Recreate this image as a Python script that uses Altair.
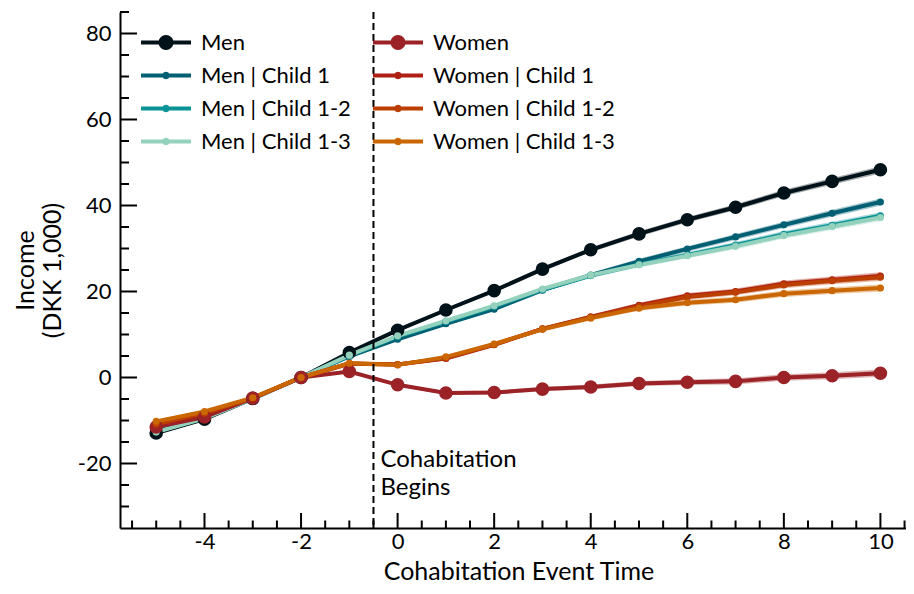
import math
import altair as alt
import pandas as pd

# ---------------- data ----------------
event_time = [-5, -4, -3, -2, -1, 0, 1, 2, 3, 4, 5, 6, 7, 8, 9, 10]

men       = [-12.9, -9.7, -4.9, 0, 5.8, 11.0, 15.7, 20.2, 25.2, 29.7, 33.4, 36.7, 39.6, 42.9, 45.6, 48.3]
men_c1    = [-12.5, -9.3, -4.8, 0, 4.9, 8.9, 12.5, 15.9, 20.3, 23.8, 27.0, 29.9, 32.7, 35.5, 38.2, 40.8]
men_c12   = [-12.6, -9.4, -4.9, 0, 5.1, 9.5, 13.0, 16.5, 20.4, 23.7, 26.3, 28.5, 30.8, 33.3, 35.4, 37.6]
men_c13   = [-12.7, -9.5, -4.9, 0, 5.2, 9.7, 13.2, 16.7, 20.6, 23.8, 26.2, 28.3, 30.5, 33.0, 35.1, 37.2]
women     = [-11.5, -9.2, -4.8, 0, 1.4, -1.7, -3.6, -3.5, -2.7, -2.2, -1.4, -1.1, -0.9, 0.0, 0.4, 1.0]
women_c1  = [-10.9, -8.4, -4.8, 0, 3.2, 3.0, 4.4, 7.6, 11.3, 14.1, 16.8, 19.0, 20.0, 21.8, 22.7, 23.6]
women_c12 = [-10.8, -8.3, -4.8, 0, 3.3, 3.0, 4.5, 7.7, 11.3, 14.0, 16.5, 18.7, 19.8, 21.5, 22.5, 23.3]
women_c13 = [-10.2, -7.9, -4.7, 0, 3.3, 2.9, 4.8, 7.8, 11.2, 13.8, 16.1, 17.4, 18.1, 19.5, 20.2, 20.8]

# half width of the confidence band around each estimate
ci_half = [0.4, 0.35, 0.25, 0.0, 0.25, 0.35, 0.4, 0.45, 0.5, 0.55, 0.6, 0.65, 0.7, 0.75, 0.8, 0.85]

series_names = ["Men", "Men | Child 1", "Men | Child 1-2", "Men | Child 1-3",
                "Women", "Women | Child 1", "Women | Child 1-2", "Women | Child 1-3"]
series_values = [men, men_c1, men_c12, men_c13, women, women_c1, women_c12, women_c13]
series_colors = ["#001219", "#005f73", "#0a9396", "#94d2bd",
                 "#9b2226", "#ae2012", "#bb3e03", "#ca6702"]
big_series = ["Men", "Women"]

x_major = [-4, -2, 0, 2, 4, 6, 8, 10]
x_minor = [-5.5, -5, -4.5, -3.5, -3, -2.5, -1.5, -1, -0.5, 0.5, 1, 1.5, 2.5, 3, 3.5,
           4.5, 5, 5.5, 6.5, 7, 7.5, 8.5, 9, 9.5, 10.5]
y_major = [-20, 0, 20, 40, 60, 80]
y_minor = [-30, -25, -15, -10, -5, 5, 10, 15, 25, 30, 35, 45, 50, 55, 65, 70, 75, 85]

cohab_time = [-0.5]
annot_y = [-20.8]
annot_text = ["Cohabitation", "Begins"]

# ---------------- tables ----------------
rows = []
for name, vals in zip(series_names, series_values):
    for t, v, h in zip(event_time, vals, ci_half):
        rows.append({"series": name, "x": t, "y": v, "lo": v - h, "hi": v + h})
df = pd.DataFrame(rows)


def line_marker_path(r, n=24):
    """Legend glyph: a horizontal bar with a round marker in the middle."""
    bar = "M-1,-0.08L1,-0.08L1,0.08L-1,0.08Z"
    pts = []
    for k in range(n):
        a = 2 * math.pi * k / n
        pts.append(f"{r * math.cos(a):.4f},{r * math.sin(a):.4f}")
    circ = "M" + "L".join(pts) + "Z"
    return bar + " " + circ


legend_paths = [line_marker_path(0.3) if s in big_series else line_marker_path(0.15)
                for s in series_names]

W, H = 786, 516
FONT = "Lato"

xscale = alt.Scale(domain=[-5.75, 10.53], nice=False, zero=False)
yscale = alt.Scale(domain=[-35, 85], nice=False, zero=False)
color_scale = alt.Scale(domain=series_names, range=series_colors)
shape_scale = alt.Scale(domain=series_names, range=legend_paths)

x_axis = alt.Axis(values=x_major, ticks=False, tickSize=0, grid=False, labelFontSize=22,
                  labelPadding=3, labelFlush=False, labelOverlap=False, domainWidth=2,
                  domainColor="black", labelColor="black", title="Cohabitation Event Time",
                  titleFontSize=25, titleFontWeight="normal", titleColor="black",
                  titlePadding=7, titleX=398.5, labelExpr="'' + datum.value")
y_axis = alt.Axis(values=y_major, ticks=False, tickSize=0, grid=False, labelFontSize=22,
                  labelPadding=9, labelOverlap=False, domainWidth=2, domainColor="black",
                  labelColor="black", title=["Income", "(DKK 1,000)"], titleFontSize=25,
                  titleFontWeight="normal", titleColor="black", titlePadding=12,
                  titleLineHeight=27, labelExpr="'' + datum.value")

base = alt.Chart(df)

leg = alt.Legend(title=None, orient="none", legendX=21, legendY=18, columns=2,
                 direction="vertical",
                 symbolSize=2500, clipHeight=25, rowPadding=8, columnPadding=22,
                 labelOffset=10, labelFontSize=22, labelFont=FONT, labelColor="black",
                 labelFontWeight="normal",
                 symbolStrokeWidth=0, padding=0, labelLimit=400, symbolOpacity=1)

# invisible layer (no rows survive the filter) that only carries the legend
legend_layer = base.transform_filter("false").mark_point(filled=True, strokeWidth=0).encode(
    x=alt.X("x:Q", scale=xscale, axis=x_axis),
    y=alt.Y("y:Q", scale=yscale, axis=y_axis),
    color=alt.Color("series:N", scale=color_scale, legend=leg),
    shape=alt.Shape("series:N", scale=shape_scale, legend=leg),
)

bands = base.mark_area(opacity=0.35).encode(
    x=alt.X("x:Q", scale=xscale),
    y=alt.Y("lo:Q", scale=yscale),
    y2="hi:Q",
    color=alt.Color("series:N", scale=color_scale, legend=None),
    detail="series:N",
)

lines = base.mark_line(strokeWidth=4).encode(
    x=alt.X("x:Q", scale=xscale),
    y=alt.Y("y:Q", scale=yscale),
    color=alt.Color("series:N", scale=color_scale, legend=None),
    detail="series:N",
)

points = base.mark_point(filled=True, opacity=1, strokeWidth=0).encode(
    x=alt.X("x:Q", scale=xscale),
    y=alt.Y("y:Q", scale=yscale),
    color=alt.Color("series:N", scale=color_scale, legend=None),
    size=alt.condition(alt.FieldOneOfPredicate(field="series", oneOf=big_series),
                       alt.value(185), alt.value(50)),
)

vline = alt.Chart(pd.DataFrame({"x": cohab_time})).mark_rule(
    color="black", strokeWidth=2, strokeDash=[7, 4]
).encode(x=alt.X("x:Q", scale=xscale))

annot = alt.Chart(pd.DataFrame({"x": cohab_time, "y": annot_y})).mark_text(
    text=annot_text, align="left", baseline="alphabetic", dx=7, fontSize=24,
    lineHeight=28, font=FONT, color="black"
).encode(x=alt.X("x:Q", scale=xscale), y=alt.Y("y:Q", scale=yscale))

def xticks(vals, length):
    return alt.Chart(pd.DataFrame({"v": vals})).mark_rule(color="black", strokeWidth=2).encode(
        x=alt.X("v:Q", scale=xscale), y=alt.value(H), y2=alt.value(H - length))

def yticks(vals, length):
    return alt.Chart(pd.DataFrame({"v": vals})).mark_rule(color="black", strokeWidth=2).encode(
        y=alt.Y("v:Q", scale=yscale), x=alt.value(0), x2=alt.value(length))

chart = alt.layer(
    legend_layer, bands, lines, points, vline, annot,
    xticks(x_major, 15), xticks(x_minor, 7.5), yticks(y_major, 17), yticks(y_minor, 9),
).properties(
    width=W, height=H,
    autosize=alt.AutoSizeParams(type="none"),
    padding={"left": 112, "top": 4, "right": 0, "bottom": 58},
).configure(font=FONT).configure_view(stroke=None)

chart.save("out.html", embed_options={"renderer": "svg", "actions": False})
